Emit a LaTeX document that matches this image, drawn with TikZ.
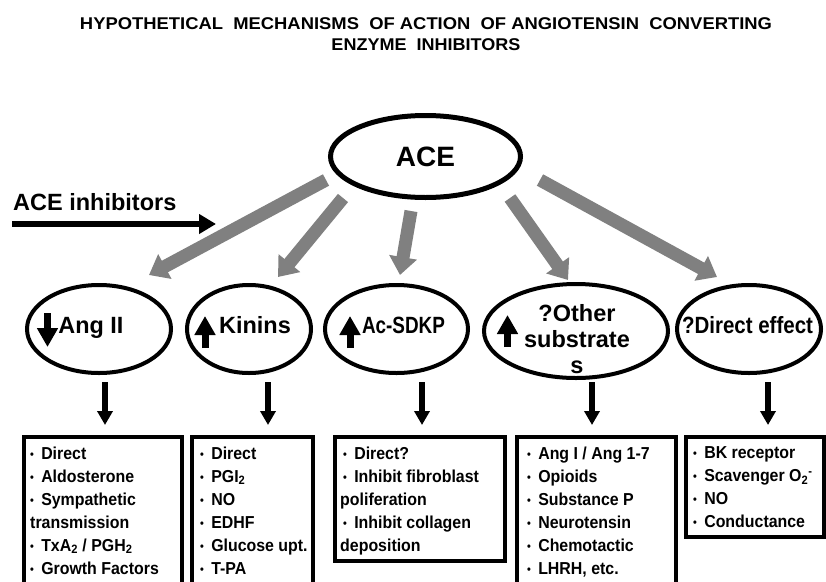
\documentclass[tikz,border=0pt]{standalone}
\usepackage{graphicx}
\usepackage{fontspec}
\setmainfont{Liberation Sans}
\newfontfamily\cnd{Liberation Sans}[FakeStretch=0.92]
\usetikzlibrary{arrows.meta,shapes.geometric}
\definecolor{arrgray}{RGB}{128,128,128}
\newcommand\fitw[2]{\resizebox{#1}{\height}{#2}}
\newcommand\bu{\raisebox{0.06em}{\scalebox{0.68}{\textbullet}}\hspace{0.42em}}
\begin{document}
\begin{tikzpicture}[x=1pt,y=-1pt,
  oval/.style={ellipse,draw,line width=4pt,inner sep=0pt,outer sep=0pt},
  lbl/.style={font=\bfseries\fontsize{23.5}{26}\selectfont,inner sep=0pt,anchor=base},
  graya/.style={draw=arrgray,line width=13pt,-{Triangle[width=27pt,length=18pt]}},
  blka/.style={line width=6pt,-{Triangle[width=15pt,length=14pt]}},
  iconarr/.style={line width=7pt,-{Triangle[width=20pt,length=19pt]}},
  box/.style={draw,line width=4pt,rectangle,inner sep=0pt,outer sep=0pt,anchor=north west},
  btxt/.style={font=\cnd\bfseries\fontsize{17.3}{23}\selectfont,inner sep=0pt,anchor=north west,align=left},
]
\clip (0,0) rectangle (826,581);
\fill[white] (0,0) rectangle (826,581);

% title
\node[font=\bfseries\fontsize{17}{20}\selectfont,inner sep=0pt,anchor=base] (t1) at (426,29)
  {\fitw{692pt}{HYPOTHETICAL\ \ MECHANISMS\ \ OF ACTION\ \ OF ANGIOTENSIN\ \ CONVERTING}};
\node[font=\bfseries\fontsize{17}{20}\selectfont,inner sep=0pt,anchor=base] (t2) at (426,50)
  {\fitw{189pt}{ENZYME\ \ INHIBITORS}};

% ACE
\node[oval,line width=5pt,minimum width=190pt,minimum height=82pt,
      font=\bfseries\fontsize{28}{30}\selectfont] (ace) at (425.5,156.5) {ACE};

% ACE inhibitors
\node[font=\bfseries\fontsize{23.5}{26}\selectfont,inner sep=0pt,anchor=base west] (inh) at (13,210) {ACE inhibitors};
\coordinate (inhs) at (12,224);
\coordinate (inhe) at (216,224);
\draw[line width=6.5pt,-{Triangle[width=19pt,length=17pt]}] (inhs) -- (inhe);

% second-row ellipses
\node[oval,minimum width=144pt,minimum height=88pt] (e1) at (99,329) {};
\node[oval,minimum width=124pt,minimum height=88pt] (e2) at (249,329) {};
\node[oval,minimum width=143pt,minimum height=88pt] (e3) at (396.5,329) {};
\node[oval,minimum width=184pt,minimum height=94pt] (e4) at (576,331) {};
\node[oval,minimum width=144pt,minimum height=88pt] (e5) at (749,329) {};

\node[lbl] (l1) at (91,333) {\fitw{65pt}{Ang II}};
\node[lbl] (l2) at (255,333) {Kinins};
\node[lbl] (l3) at (403.5,333) {\fitw{83pt}{Ac-SDKP}};
\node[lbl,anchor=north,align=center] (l4) at (577,304) {?Other\\substrate\\s};
\node[lbl] (l5) at (747.5,333) {\fitw{131pt}{?Direct effect}};

% small block arrows inside the ellipses
\draw[iconarr] (47.5,313) -- (47.5,347);
\draw[iconarr] (205,348) -- (205,316);
\draw[iconarr] (350,348) -- (350,316);
\draw[iconarr] (507.5,347) -- (507.5,315);

% gray arrows from ACE
\coordinate (g1s) at (326,180); \coordinate (g1e) at (149,275);
\coordinate (g2s) at (343,198); \coordinate (g2e) at (278,277);
\coordinate (g3s) at (411,211); \coordinate (g3e) at (400,275);
\coordinate (g4s) at (510,198); \coordinate (g4e) at (568,280);
\coordinate (g5s) at (540,180); \coordinate (g5e) at (717,277);
\draw[graya] (g1s) -- (g1e);
\draw[graya] (g2s) -- (g2e);
\draw[graya] (g3s) -- (g3e);
\draw[graya] (g4s) -- (g4e);
\draw[graya] (g5s) -- (g5e);

% boxes
\node[box,minimum width=158pt,minimum height=190pt] (b1) at (24,437) {};
\node[box,minimum width=121pt,minimum height=190pt] (b2) at (192,437) {};
\node[box,minimum width=170pt,minimum height=124pt] (b3) at (335,437) {};
\node[box,minimum width=159pt,minimum height=190pt] (b4) at (517,437) {};
\node[box,minimum width=137.5pt,minimum height=100pt] (b5) at (686,437) {};

% black arrows ellipse -> box
\coordinate (d1s) at (105,382); \coordinate (d1e) at (105,425);
\coordinate (d2s) at (268,382); \coordinate (d2e) at (268,425);
\coordinate (d3s) at (422,382); \coordinate (d3e) at (422,425);
\coordinate (d4s) at (592,382); \coordinate (d4e) at (592,425);
\coordinate (d5s) at (768,382); \coordinate (d5e) at (768,425);
\draw[blka] (d1s) -- (d1e);
\draw[blka] (d2s) -- (d2e);
\draw[blka] (d3s) -- (d3e);
\draw[blka] (d4s) -- (d4e);
\draw[blka] (d5s) -- (d5e);

% box texts
\node[btxt] (bt1) at (30,446.3) {\bu Direct\\ \bu Aldosterone\\ \bu Sympathetic\\ transmission\\ \bu TxA\textsubscript{2} / PGH\textsubscript{2}\\ \bu Growth Factors};
\node[btxt] (bt2) at (200,446.3) {\bu Direct\\ \bu PGI\textsubscript{2}\\ \bu NO\\ \bu EDHF\\ \bu Glucose upt.\\ \bu T-PA};
\node[btxt] (bt3) at (340,446.3) {\hspace*{3pt}\bu Direct?\\ \hspace*{3pt}\bu Inhibit fibroblast\\ poliferation\\ \hspace*{3pt}\bu Inhibit collagen\\ deposition};
\node[btxt] (bt4) at (527,446.3) {\bu Ang I / Ang 1-7\\ \bu Opioids\\ \bu Substance P\\ \bu Neurotensin\\ \bu Chemotactic\\ \bu LHRH, etc.};
\node[btxt] (bt5) at (693,446.3) {\bu BK receptor\\ \bu Scavenger O\textsubscript{2}\textsuperscript{-}\\ \bu NO\\ \bu Conductance};
\end{tikzpicture}
\end{document}
